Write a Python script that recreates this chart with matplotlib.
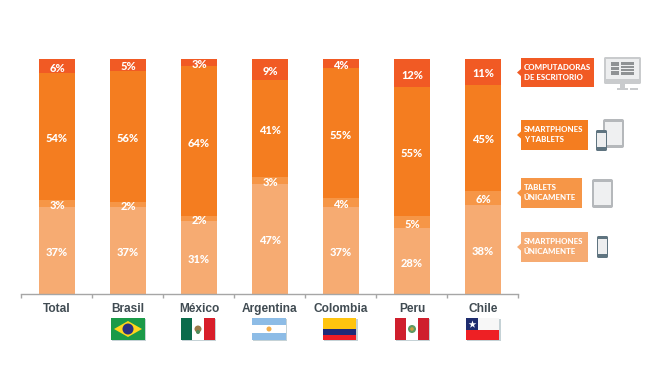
import matplotlib

matplotlib.use("Agg")
import matplotlib.pyplot as plt
import numpy as np
from matplotlib.patches import Circle, Polygon, Rectangle, FancyBboxPatch

W, H = 655, 389

countries = ["Total", "Brasil", "México", "Argentina", "Colombia", "Peru", "Chile"]
smartphones_only = [37, 37, 31, 47, 37, 28, 38]
tablets_only = [3, 2, 2, 3, 4, 5, 6]
smart_and_tablets = [54, 56, 64, 41, 55, 55, 45]
desktop = [6, 5, 3, 9, 4, 12, 11]

series = [smartphones_only, tablets_only, smart_and_tablets, desktop]
colors = ["#F6AB72", "#F69647", "#F47D20", "#F15A24"]
legend_labels = ["SMARTPHONES\nÚNICAMENTE", "TABLETS\nÚNICAMENTE",
                 "SMARTPHONES\nY TABLETS", "COMPUTADORAS\nDE ESCRITORIO"]

fig = plt.figure(figsize=(W / 100, H / 100), dpi=100, facecolor="white")

# bars: percent axis, baseline at y=294 px, 100% at y=59 px
ax = fig.add_axes([21 / W, 1 - 294 / H, 497 / W, 235 / H])
x = np.arange(len(countries))
bottom = np.zeros(len(countries))
for vals, col in zip(series, colors):
    ax.bar(x, vals, 36 / 71, bottom=bottom, color=col, edgecolor="none")
    for xi, b, v in zip(x, bottom, vals):
        ax.annotate(f"{v}%", (xi, b + v / 2), xytext=(0.5, -2), textcoords="offset pixels",
                    ha="center", va="center", color="white",
                    fontsize=8, fontweight="black", family="Lato")
    bottom += np.array(vals)
ax.set_xlim(-0.5, 6.5)
ax.set_ylim(0, 100)
ax.set_yticks([])
ax.set_xticks(np.arange(-0.5, 7))
ax.set_xticklabels([])
ax.tick_params(axis="x", length=3, width=1, color="#A6A6A6")
for s in ["top", "left", "right"]:
    ax.spines[s].set_visible(False)
ax.spines["bottom"].set_color("#A6A6A6")
ax.spines["bottom"].set_linewidth(1)
ax.patch.set_alpha(0)
for xi, name in zip(x, countries):
    ax.annotate(name, (xi, 0), xytext=(0.5, -9), xycoords="data", textcoords="offset pixels",
                ha="center", va="top", fontsize=8.6, fontweight="bold", color="#404B52",
                family="Liberation Sans")

# overlay in pixel coordinates for legend tags, icons and flags
ov = fig.add_axes([0, 0, 1, 1], zorder=5)
ov.set_xlim(0, W)
ov.set_ylim(H, 0)
ov.axis("off")


def rect(x0, y0, x1, y1, col, **kw):
    ov.add_patch(Rectangle((x0, y0), x1 - x0, y1 - y0, facecolor=col, edgecolor=kw.pop("ec", "none"),
                           linewidth=kw.pop("lw", 0), **kw))


def rrect(x0, y0, x1, y1, col, r=1.5):
    ov.add_patch(FancyBboxPatch((x0 + r, y0 + r), x1 - x0 - 2 * r, y1 - y0 - 2 * r,
                                boxstyle=f"round,pad={r}", facecolor=col, edgecolor="none"))


def tag(x1, y0, y1, col, label):
    rect(521, y0, x1, y1, col)
    ym = (y0 + y1) / 2
    ov.add_patch(Polygon([(517, ym), (521.5, ym - 4), (521.5, ym + 4)], facecolor=col, edgecolor="none"))
    ov.text(524, ym - 0.2, label, ha="left", va="center", color="white", fontsize=5.7,
            fontweight="black", family="Lato", linespacing=1.55)


def tablet(x0, y0, x1, y1):
    rrect(x0, y0, x1, y1, "#B5B8BB", 2)
    rect(x0 + 2, y0 + 3, x1 - 2, y1 - 3, "#EFF0F1")


def phone(x0, y0, x1, y1):
    rrect(x0, y0, x1, y1, "#5F7480", 1.5)
    rect(x0 + 1.2, y0 + 3, x1 - 1.2, y1 - 4, "#EDEEEF")


for x1, (y0, y1), col, lab in zip([588, 582, 588, 594],
                                  [(232, 262), (178, 208), (120, 150), (58, 87)],
                                  colors, legend_labels):
    tag(x1, y0, y1, col, lab)

# monitor icon
rrect(604, 57, 641, 84, "#C9CBCD", 1.5)
rect(606, 59, 639, 79, "#EDEEEF")
rect(611, 62, 619, 66, "#8F9294")
rect(611, 67, 619, 70, "#8F9294")
rect(611, 71, 619, 75, "#8F9294")
rect(621, 62, 634, 75, "#8F9294")
for yy in (65, 68, 71):
    rect(621, yy, 634, yy + 0.7, "#EDEEEF")
rect(620, 84, 625, 88, "#C9CBCD")
rect(617, 88, 628, 90, "#C9CBCD")
rect(630, 88, 638, 90, "#C9CBCD")

tablet(603, 119, 624, 148)
phone(596, 130, 607, 151)
tablet(592, 179, 613, 208)
phone(597, 236, 608, 258)

# flags
fy0, fy1 = 318, 340
for fx0 in (111, 181, 252, 323, 395, 466):
    rect(fx0 + 1, fy0 + 1, fx0 + 35, fy1 + 1, "#C5D2D6")

fx = 111
rect(fx, fy0, fx + 34, fy1, "#1B9A48")
ov.add_patch(Polygon([(fx + 3, 329), (fx + 17, 321), (fx + 31, 329), (fx + 17, 337)], facecolor="#FFD51C"))
ov.add_patch(Circle((fx + 17, 329), 5.5, facecolor="#2B2F80"))

fx = 181
rect(fx, fy0, fx + 11, fy1, "#0B6B4B")
rect(fx + 11, fy0, fx + 23, fy1, "white")
rect(fx + 23, fy0, fx + 34, fy1, "#D81E2A")
ov.add_patch(Circle((fx + 17, 329), 3.5, facecolor="#9C7A4A"))
ov.add_patch(Circle((fx + 17, 332), 2, facecolor="#4E8B5A"))

fx = 252
rect(fx, fy0, fx + 34, fy0 + 7.3, "#8DBCE6")
rect(fx, fy0 + 7.3, fx + 34, fy0 + 14.7, "white")
rect(fx, fy0 + 14.7, fx + 34, fy1, "#8DBCE6")
ov.add_patch(Circle((fx + 17, 329), 2.5, facecolor="#F2AE4B"))

fx = 323
rect(fx, fy0, fx + 33, fy0 + 11, "#FFC40F")
rect(fx, fy0 + 11, fx + 33, fy0 + 16.5, "#1F2A78")
rect(fx, fy0 + 16.5, fx + 33, fy1, "#EE1C25")

fx = 395
rect(fx, fy0, fx + 11, fy1, "#CF1F2D")
rect(fx + 11, fy0, fx + 23, fy1, "white")
rect(fx + 23, fy0, fx + 34, fy1, "#CF1F2D")
ov.add_patch(Circle((fx + 17, 329), 4, facecolor="#5E9A63"))
ov.add_patch(Circle((fx + 17, 329), 1.8, facecolor="#C9A040"))

fx = 466
rect(fx, fy0, fx + 33, fy0 + 12, "white")
rect(fx + 33 - 21, fy0, fx + 33, fy0 + 12, "#F7F7F7")
rect(fx, fy0, fx + 12, fy0 + 12, "#1E2C6E")
rect(fx, fy0 + 12, fx + 33, fy1, "#EE2024")
ov.scatter([fx + 6], [fy0 + 5.8], marker="*", s=34, color="white", linewidths=0)

fig.savefig("out.png", dpi=100, facecolor="white")
